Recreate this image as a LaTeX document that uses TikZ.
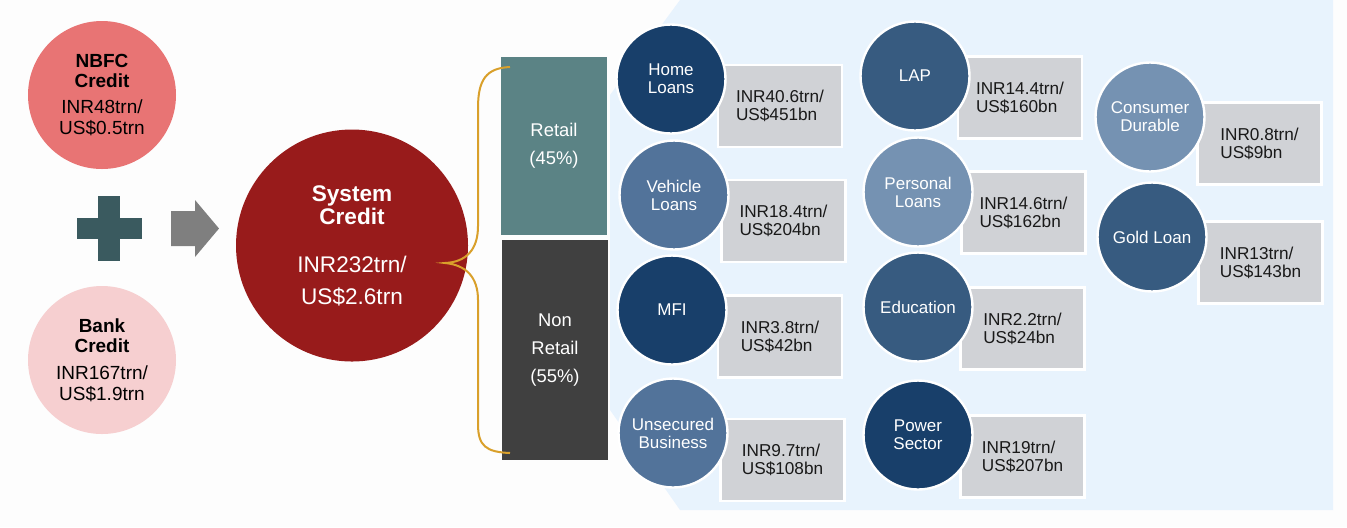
\documentclass[tikz,border=0pt]{standalone}
\usepackage{fontspec}
\setmainfont{Liberation Sans}
\usetikzlibrary{positioning}

\definecolor{pagebg}{HTML}{FDFDFD}
\definecolor{panelblue}{HTML}{E8F3FD}
\definecolor{nbfcred}{HTML}{E87474}
\definecolor{bankpink}{HTML}{F6CFD0}
\definecolor{plusteal}{HTML}{3A5A5F}
\definecolor{arrowgray}{HTML}{7F7F7F}
\definecolor{sysred}{HTML}{981B1B}
\definecolor{bracegold}{HTML}{D9A02B}
\definecolor{retailteal}{HTML}{5B8385}
\definecolor{nonretail}{HTML}{404040}
\definecolor{navy}{HTML}{183F6A}
\definecolor{midblue}{HTML}{52739A}
\definecolor{steel}{HTML}{375B80}
\definecolor{lightsteel}{HTML}{7592B2}
\definecolor{valgray}{HTML}{D0D2D6}

\begin{document}
\begin{tikzpicture}[x=0.5pt,y=-0.5pt,
  srccirc/.style={circle, minimum size=74pt, inner sep=0pt, align=center,
    font=\fontsize{9.5}{10}\selectfont},
  segbox/.style={rectangle, minimum width=53pt, inner sep=0pt, align=center,
    text=white, font=\fontsize{9.2}{14}\selectfont},
  loancirc/.style={circle, draw=white, line width=1.2pt, minimum size=54.5pt,
    inner sep=0pt, align=center, text=white, font=\fontsize{8.5}{9}\selectfont},
  valbox/.style={rectangle, fill=valgray, draw=white, line width=1.2pt,
    minimum width=62pt, minimum height=41pt, inner sep=0pt, align=left,
    text=black!90, font=\fontsize{8.6}{9}\selectfont}]

 \useasboundingbox (0,0) rectangle (1347,527);
 \fill[pagebg] (0,0) rectangle (1347,527); % page
 \fill[panelblue] (680,0) -- (1333,0) -- (1333,510) -- (680,510) -- (610,410) -- (610,95) -- cycle; % back panel

 % sources
 \node[srccirc, fill=nbfcred] (nbfc) at (102,95)
   {\textbf{NBFC}\\\textbf{Credit}\\[3pt]INR48trn/\\[0.5pt]US\$0.5trn};
 \node[srccirc, fill=bankpink] (bank) at (102,360)
   {\textbf{Bank}\\\textbf{Credit}\\[3.5pt]INR167trn/\\[0.5pt]US\$1.9trn};

 \fill[plusteal] (77,218) rectangle (142,239); % plus sign
 \fill[plusteal] (98,196) rectangle (120,261);

 \fill[arrowgray] (171,211) -- (195,211) -- (195,200) -- (219,228.5) -- (195,257) -- (195,246) -- (171,246) -- cycle; % block arrow

 \node[circle, fill=sysred, minimum size=116pt, inner sep=0pt, align=center, text=white,
   font=\fontsize{11.3}{11.5}\selectfont] (sys) at (352,245.5)
   {\textbf{System}\\\textbf{Credit}\\[12.5pt]INR232trn/\\[4.5pt]US\$2.6trn};

 % split
 \node[segbox, fill=retailteal, minimum height=89pt] (retail) at (554,146) {Retail\\(45\%)};
 \node[segbox, fill=nonretail, minimum height=110pt] (nonret) at (555,350) {Non\\Retail\\(55\%)};

 \coordinate (bt) at (510,67);
 \coordinate (btip) at (445,263);
 \coordinate (bb) at (510,453);
 \draw[bracegold, line width=1pt] (bt) .. controls (486,68) and (478,80) .. (478,108) -- (478,226)
   .. controls (478,250) and (466,262) .. (btip)
   .. controls (466,265) and (478,277) .. (478,300) -- (478,424)
   .. controls (478,446) and (486,452) .. (bb); % curly brace

 % first column
 \node[valbox] (homev) at (780,106) {INR40.6trn/\\US\$451bn};
 \node[loancirc, fill=navy] (home) at (671,79) {Home\\Loans};
 \node[valbox] (vehv) at (783.5,221) {INR18.4trn/\\US\$204bn};
 \node[loancirc, fill=midblue] (veh) at (674,195) {Vehicle\\Loans};
 \node[valbox] (mfiv) at (780,336.5) {INR3.8trn/\\US\$42bn};
 \node[loancirc, fill=navy] (mfi) at (672,310) {MFI};
 \node[valbox] (ubv) at (782.5,460) {INR9.7trn/\\US\$108bn};
 \node[loancirc, fill=midblue] (ub) at (673,433) {Unsecured\\Business};

 % second column
 \node[valbox] (lapv) at (1020,97.5) {INR14.4trn/\\US\$160bn};
 \node[loancirc, fill=steel] (lap) at (915,76) {LAP};
 \node[valbox] (plv) at (1023.5,212.5) {INR14.6trn/\\US\$162bn};
 \node[loancirc, fill=lightsteel] (pl) at (918,192) {Personal\\Loans};
 \node[valbox] (eduv) at (1022.5,328.5) {INR2.2trn/\\US\$24bn};
 \node[loancirc, fill=steel] (edu) at (918,307) {Education};
 \node[valbox] (powv) at (1022.5,456.5) {INR19trn/\\US\$207bn};
 \node[loancirc, fill=navy] (pow) at (918,435) {Power\\Sector};

 % third column
 \node[valbox] (cdv) at (1259.5,143.5) {INR0.8trn/\\US\$9bn};
 \node[loancirc, fill=lightsteel] (cd) at (1150,117) {Consumer\\Durable};
 \node[valbox] (goldv) at (1260.5,262.5) {INR13trn/\\US\$143bn};
 \node[loancirc, fill=steel] (gold) at (1152,237) {Gold Loan};

\end{tikzpicture}
\end{document}
